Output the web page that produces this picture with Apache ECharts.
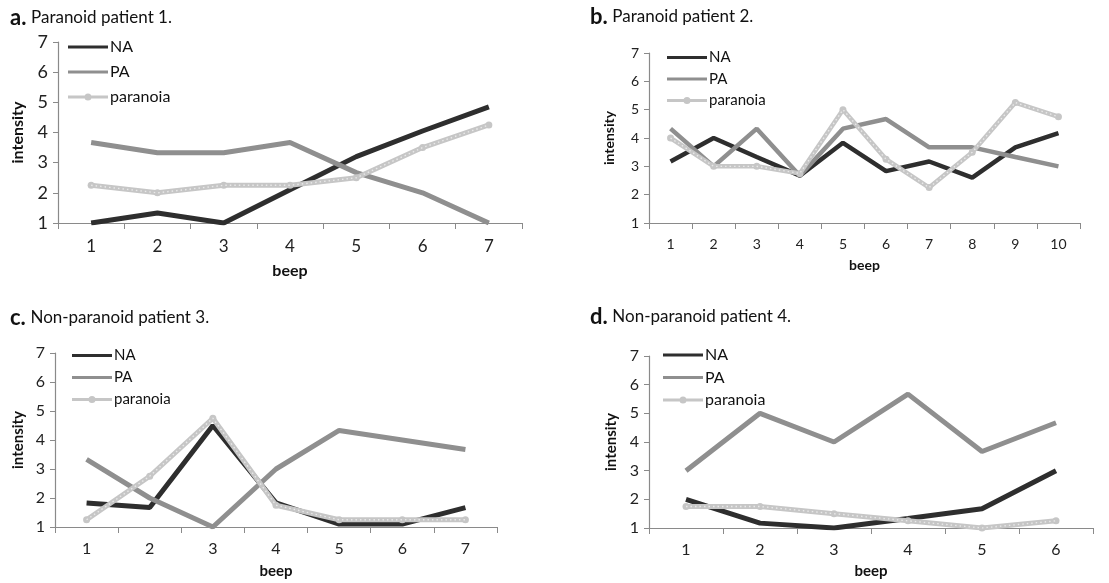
<!DOCTYPE html>
<html>
<head>
<meta charset="utf-8">
<script src="https://cdn.jsdelivr.net/npm/echarts@6/dist/echarts.min.js"></script>
<style>
html,body{margin:0;padding:0;background:#fff;}
#main{width:1109px;height:583px;}
</style>
</head>
<body>
<div id="main"></div>
<script>
// ---- data ----
const beepsA = ['1','2','3','4','5','6','7'];
const naA  = [1, 1.33, 1, 2.1, 3.2, 4.05, 4.85];
const paA  = [3.67, 3.33, 3.33, 3.67, 2.67, 2.0, 1.0];
const parA = [2.25, 2.0, 2.25, 2.25, 2.5, 3.5, 4.25];

const beepsB = ['1','2','3','4','5','6','7','8','9','10'];
const naB  = [3.17, 4.0, 3.33, 2.67, 3.83, 2.83, 3.17, 2.6, 3.67, 4.17];
const paB  = [4.33, 3.0, 4.33, 2.67, 4.33, 4.67, 3.67, 3.67, 3.33, 3.0];
const parB = [4.0, 3.0, 3.0, 2.75, 5.0, 3.25, 2.25, 3.5, 5.25, 4.75];

const beepsC = ['1','2','3','4','5','6','7'];
const naC  = [1.83, 1.67, 4.5, 1.83, 1.1, 1.1, 1.67];
const paC  = [3.33, 2.0, 1.0, 3.0, 4.33, 4.0, 3.67];
const parC = [1.25, 2.75, 4.75, 1.75, 1.25, 1.25, 1.25];

const beepsD = ['1','2','3','4','5','6'];
const naD  = [2.0, 1.17, 1.0, 1.33, 1.67, 3.0];
const paD  = [3.0, 5.0, 4.0, 5.67, 3.67, 4.67];
const parD = [1.75, 1.75, 1.5, 1.25, 1.0, 1.25];

const yTicks = [1, 7, 1]; // min, max, interval
const seriesNames = ['NA', 'PA', 'paranoia'];
const panelLetters = ['a.', 'b.', 'c.', 'd.'];
const panelTitles = ['Paranoid patient 1.', 'Paranoid patient 2.', 'Non-paranoid patient 3.', 'Non-paranoid patient 4.'];

const panels = [
  {cats: beepsA, na: naA, pa: paA, par: parA},
  {cats: beepsB, na: naB, pa: paB, par: parB},
  {cats: beepsC, na: naC, pa: paC, par: parC},
  {cats: beepsD, na: naD, pa: paD, par: parD}
];

// ---- layout / style ----
const FONT = 'Lato, "Open Sans", sans-serif';
const layout = [
  {grid:{left:58, top:42, width:464, height:181}, fs:17, yfs:18, nfs:16, lw:5, tx:10, ty:7, leg:{left:68, top:39, ih:16, gap:9, fs:16}, yGap:32, xGap:40, xm:15},
  {grid:{left:649, top:53, width:431, height:170}, fs:14, yfs:14, nfs:14, lw:4.5, tx:590, ty:6, leg:{left:667, top:50, ih:14, gap:6.5, fs:15}, yGap:33, xGap:35, xm:14},
  {grid:{left:55, top:353, width:442, height:174}, fs:16, yfs:16, nfs:15, lw:5, tx:10, ty:307, leg:{left:72, top:348, ih:14, gap:7, fs:15}, yGap:29, xGap:37, xm:14},
  {grid:{left:649, top:356, width:444, height:172}, fs:16, yfs:16, nfs:15, lw:5, tx:590, ty:306, leg:{left:663, top:347, ih:14, gap:6.5, fs:16}, yGap:30, xGap:36, xm:14}
];
const colNA = '#2e2e2e', colPA = '#8f8f8f', colPar = '#c6c6c6', colDots = '#e9e9e9';
const axisCol = '#8a8a8a';

function lineIcon(h, withDot) {
  const m = h / 2;
  let p = 'path://M0,0L0.01,0M0,' + (m - 1.5) + 'L40,' + (m - 1.5) + 'L40,' + (m + 1.5) + 'L0,' + (m + 1.5) + 'Z';
  if (withDot) {
    p += 'M16.5,' + m + 'A3.5,3.5 0 1 1 23.5,' + m + 'A3.5,3.5 0 1 1 16.5,' + m + 'Z';
  }
  p += 'M0,' + h + 'L0.01,' + h;
  return p;
}

const option = {
  backgroundColor: '#fff',
  animation: false,
  textStyle: {fontFamily: FONT},
  title: [], legend: [], grid: [], xAxis: [], yAxis: [], series: []
};

panels.forEach((p, i) => {
  const L = layout[i];
  option.title.push({
    text: '{b|' + panelLetters[i] + '} {n|' + panelTitles[i] + '}',
    left: L.tx, top: L.ty, padding: 0,
    textStyle: {fontWeight: 'normal', fontFamily: FONT, rich: {
      b: {fontFamily: FONT, fontWeight: 'bold', fontSize: 22, color: '#111'},
      n: {fontFamily: FONT, fontWeight: 'normal', fontSize: 17, color: '#111'}
    }}
  });
  option.grid.push(Object.assign({containLabel: false}, L.grid));
  option.legend.push({
    data: seriesNames.map((n, k) => ({name: n, icon: lineIcon(L.leg.ih, k === 2)})),
    orient: 'vertical', left: L.leg.left, top: L.leg.top,
    itemWidth: 40, itemHeight: L.leg.ih, itemGap: L.leg.gap, padding: 0,
    selectedMode: false,
    textStyle: {fontFamily: FONT, fontSize: L.leg.fs, color: '#111', padding: [0,0,0,-3]}
  });
  option.xAxis.push({
    type: 'category', gridIndex: i, data: p.cats, boundaryGap: true,
    name: 'beep', nameLocation: 'middle', nameGap: L.xGap,
    nameTextStyle: {fontFamily: FONT, fontWeight: 'bold', fontSize: L.nfs, color: '#111'},
    axisLine: {lineStyle: {color: axisCol, width: 1.2}},
    axisTick: {show: true, length: 6, lineStyle: {color: axisCol}},
    axisLabel: {fontFamily: FONT, fontSize: L.fs, color: '#222', margin: L.xm},
    splitLine: {show: false}
  });
  option.yAxis.push({
    type: 'value', gridIndex: i, min: yTicks[0], max: yTicks[1], interval: yTicks[2],
    name: 'intensity', nameLocation: 'middle', nameRotate: 90, nameGap: L.yGap,
    nameTextStyle: {fontFamily: FONT, fontWeight: 'bold', fontSize: L.nfs, color: '#111'},
    axisLine: {show: true, lineStyle: {color: axisCol, width: 1.2}},
    axisTick: {show: true, length: 5, lineStyle: {color: axisCol}},
    axisLabel: {fontFamily: FONT, fontSize: L.yfs, color: '#222', margin: 10},
    splitLine: {show: false}
  });
  option.series.push(
    {name: 'NA', type: 'line', xAxisIndex: i, yAxisIndex: i, data: p.na,
     symbol: 'none', color: colNA, lineStyle: {color: colNA, width: L.lw}, z: 3},
    {name: 'PA', type: 'line', xAxisIndex: i, yAxisIndex: i, data: p.pa,
     symbol: 'none', color: colPA, lineStyle: {color: colPA, width: L.lw}, z: 4},
    {name: 'paranoia', type: 'line', xAxisIndex: i, yAxisIndex: i, data: p.par,
     symbol: 'circle', symbolSize: 7, showSymbol: true, color: colPar,
     itemStyle: {color: colPar}, lineStyle: {color: colPar, width: L.lw}, z: 5},
    {name: 'paranoia-dots', type: 'line', xAxisIndex: i, yAxisIndex: i, data: p.par,
     symbol: 'none', silent: true, lineStyle: {color: colDots, width: 1.4, type: [1.5, 3]}, z: 6}
  );
});

const chart = echarts.init(document.getElementById('main'), null, {renderer: 'canvas'});
chart.setOption(option);
</script>
</body>
</html>
